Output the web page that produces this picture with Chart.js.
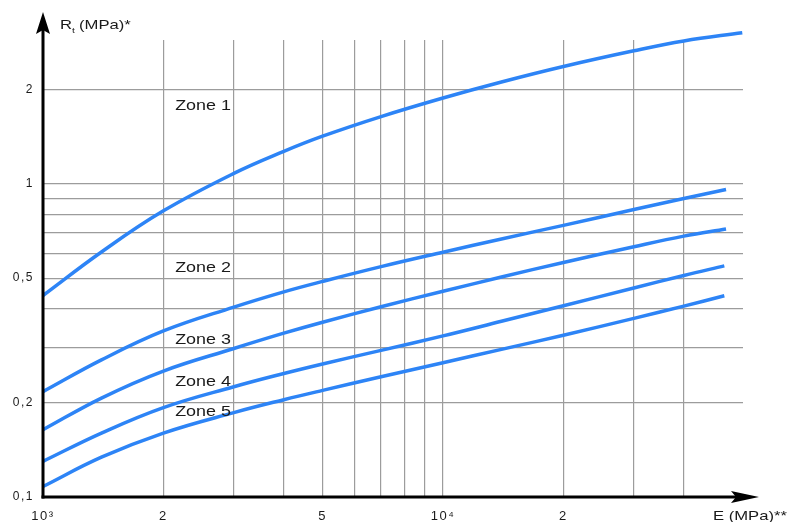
<!DOCTYPE html>
<html>
<head>
<meta charset="utf-8">
<script src="https://cdn.jsdelivr.net/npm/chart.js@4.4.1/dist/chart.umd.min.js"></script>
<style>
  html, body { margin: 0; padding: 0; background: #fff; }
  canvas { display: block; }
</style>
</head>
<body>
<canvas id="rtChart" width="795" height="522"></canvas>
<script>
// modulus E (MPa) where the curves were read
const E = [1000, 1400, 2000, 3000, 4000, 5000, 7000, 10000, 14000, 20000, 30000, 40000];
// last point of each curve
const eEnd = [56000, 51000, 51000, 50500, 50500];

// Rt (MPa) per zone
const zone1 = [0.44, 0.606, 0.82, 1.08, 1.27, 1.42, 1.64, 1.88, 2.115, 2.37, 2.66, 2.86, 3.04];
const zone2 = [0.217, 0.274, 0.339, 0.404, 0.452, 0.488, 0.544, 0.605, 0.667, 0.737, 0.828, 0.898, 0.959];
const zone3 = [0.164, 0.207, 0.2525, 0.298, 0.3335, 0.3615, 0.405, 0.454, 0.504, 0.561, 0.630, 0.681, 0.718];
const zone4 = [0.130, 0.160, 0.193, 0.225, 0.248, 0.266, 0.294, 0.327, 0.364, 0.408, 0.465, 0.510, 0.547];
const zone5 = [0.108, 0.134, 0.160, 0.186, 0.2045, 0.219, 0.242, 0.2685, 0.296, 0.3285, 0.372, 0.407, 0.439];
const zoneNames = ["Zone 1", "Zone 2", "Zone 3", "Zone 4", "Zone 5"];

// axis ticks
const xTicks = [1000, 2000, 3000, 4000, 5000, 6000, 7000, 8000, 9000, 10000, 20000, 30000, 40000];
const xTickLabels = ["10³", "2", "", "", "5", "", "", "", "", "10⁴", "2", "", ""];
const yTicks = [0.1, 0.2, 0.3, 0.4, 0.5, 0.6, 0.7, 0.8, 0.9, 1, 2];
const yTickLabels = ["0,1", "0,2", "", "", "0,5", "", "", "", "", "1", "2"];

const BLUE = "#2d84f6";
const GRID = "#9c9c9c";
const STRETCH = 1.28; // text in the drawing is wide

function zoneData(values, i) {
  return E.concat(eEnd[i]).map((x, j) => ({ x: x, y: values[j] }));
}

function drawText(ctx, text, x, y, font, align) {
  ctx.save();
  ctx.font = font;
  ctx.textAlign = align || "left";
  ctx.textBaseline = "alphabetic";
  ctx.fillStyle = "#1a1a1a";
  ctx.scale(STRETCH, 1);
  ctx.fillText(text, x / STRETCH, y);
  const w = ctx.measureText(text).width * STRETCH;
  ctx.restore();
  return w;
}

const axesPlugin = {
  id: "axesPlugin",
  beforeDraw(chart) {
    chart.ctx.letterSpacing = "1.5px";
  },
  afterDraw(chart) {
    const ctx = chart.ctx;
    const area = chart.chartArea;
    const xs = chart.scales.x;
    const ys = chart.scales.y;
    ctx.letterSpacing = "0px";

    ctx.save();
    ctx.strokeStyle = "#000";
    ctx.fillStyle = "#000";
    ctx.lineWidth = 3;
    // y axis + arrow
    ctx.beginPath();
    ctx.moveTo(area.left, area.bottom + 1.5);
    ctx.lineTo(area.left, 28);
    ctx.stroke();
    ctx.beginPath();
    ctx.moveTo(area.left, 12);
    ctx.lineTo(area.left + 7, 34);
    ctx.lineTo(area.left, 30);
    ctx.lineTo(area.left - 7, 34);
    ctx.closePath();
    ctx.fill();
    // x axis + arrow
    ctx.beginPath();
    ctx.moveTo(area.left - 1.5, area.bottom);
    ctx.lineTo(740, area.bottom);
    ctx.stroke();
    ctx.beginPath();
    ctx.moveTo(759, area.bottom);
    ctx.lineTo(731, area.bottom - 6);
    ctx.lineTo(736, area.bottom);
    ctx.lineTo(731, area.bottom + 6);
    ctx.closePath();
    ctx.fill();
    ctx.restore();

    // axis titles
    let x = 60;
    x += drawText(ctx, "R", x, 29, "13px 'Liberation Sans', Arial, sans-serif");
    drawText(ctx, "t", x, 33, "8px 'Liberation Sans', Arial, sans-serif");
    drawText(ctx, "(MPa)*", x + 7, 29, "13px 'Liberation Sans', Arial, sans-serif");
    drawText(ctx, "E (MPa)**", 713, 520, "13px 'Liberation Sans', Arial, sans-serif");

    // zone labels, placed in data coordinates
    const labelE = 2140;
    const labelR = [1.78, 0.543, 0.32, 0.235, 0.188];
    zoneNames.forEach((name, i) => {
      drawText(ctx, name, xs.getPixelForValue(labelE), ys.getPixelForValue(labelR[i]) + 5,
        "14px 'Liberation Sans', Arial, sans-serif");
    });
  }
};

const ctx = document.getElementById("rtChart").getContext("2d");
new Chart(ctx, {
  type: "line",
  data: {
    datasets: [zone1, zone2, zone3, zone4, zone5].map((values, i) => ({
      label: zoneNames[i],
      data: zoneData(values, i),
      borderColor: BLUE,
      borderWidth: 3.5,
      pointRadius: 0,
      fill: false,
      tension: 0.4,
      clip: false,
    })),
  },
  options: {
    responsive: false,
    animation: false,
    devicePixelRatio: 1,
    layout: { padding: { top: 40, right: 52, left: 0, bottom: 0 } },
    plugins: {
      legend: { display: false },
      tooltip: { enabled: false },
    },
    scales: {
      x: {
        type: "logarithmic",
        min: 1000,
        max: 56234,
        afterBuildTicks: (s) => { s.ticks = xTicks.map((v) => ({ value: v })); },
        afterFit: (s) => { s.height = 25; },
        grid: { color: GRID, lineWidth: 1.2, drawTicks: false },
        border: { display: false },
        ticks: {
          autoSkip: false,
          maxRotation: 0,
          padding: 12,
          color: "#1a1a1a",
          font: { family: "'Liberation Sans', Arial, sans-serif", size: 13 },
          callback: (v, i) => xTickLabels[i],
        },
      },
      y: {
        type: "logarithmic",
        min: 0.1,
        max: 2.88,
        afterBuildTicks: (s) => { s.ticks = yTicks.map((v) => ({ value: v })); },
        afterFit: (s) => { s.width = 43; },
        grid: { color: GRID, lineWidth: 1.2, drawTicks: false },
        border: { display: false },
        ticks: {
          autoSkip: false,
          padding: 9,
          color: "#1a1a1a",
          font: { family: "'Liberation Sans', Arial, sans-serif", size: 12 },
          callback: (v, i) => yTickLabels[i],
        },
      },
    },
  },
  plugins: [axesPlugin],
});
</script>
</body>
</html>
